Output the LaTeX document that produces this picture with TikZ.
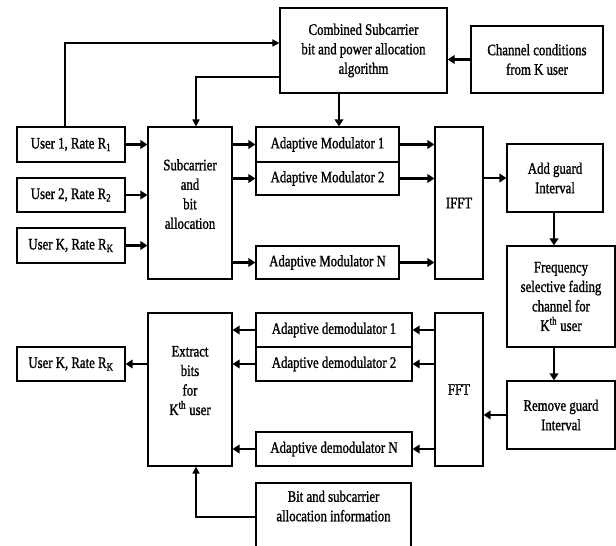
\documentclass[tikz,border=0pt]{standalone}
\usepackage{fontspec}
\setmainfont{Liberation Serif}[FakeStretch=0.8,FakeBold=1.2]
\usetikzlibrary{arrows.meta}
\tikzset{
  blk/.style={draw,line width=1.1pt,align=center,inner sep=0pt,font=\fontsize{16}{19.5}\selectfont},
  arr/.style={-{Triangle[length=7pt,width=8.5pt]},line width=2.6pt},
  fb/.style={-{Triangle[length=7pt,width=7pt]},line width=1.6pt}
}
\begin{document}
\begin{tikzpicture}[x=1pt,y=-1pt]
\useasboundingbox (0,0) rectangle (616,546);
\clip (0,0) rectangle (616,546);
% transmitter side
\node[blk,minimum width=167pt,minimum height=85pt] (comb) at (363.5,50.5) {Combined Subcarrier\\bit and power allocation\\algorithm};
\node[blk,minimum width=132pt,minimum height=67pt] (chan) at (537,59.5) {Channel conditions\\from K user};
\node[blk,minimum width=108pt,minimum height=35pt] (u1) at (71,144.5) {User 1, Rate R\textsubscript{1}};
\node[blk,minimum width=108pt,minimum height=34pt] (u2) at (71,195) {User 2, Rate R\textsubscript{2}};
\node[blk,minimum width=108pt,minimum height=35pt] (uk) at (71,245.5) {User K, Rate R\textsubscript{K}};
\node[blk,minimum width=84pt,minimum height=152pt,text depth=18pt] (sub) at (190,203) {Subcarrier\\and\\bit\\allocation};
\node[blk,minimum width=143pt,minimum height=35pt] (mod1) at (327.5,144.5) {Adaptive Modulator 1};
\node[blk,minimum width=143pt,minimum height=33pt] (mod2) at (327.5,178.5) {Adaptive Modulator 2};
\node[blk,minimum width=143pt,minimum height=33pt] (modn) at (327.5,262.5) {Adaptive Modulator N};
\node[blk,minimum width=48pt,minimum height=152pt] (ifft) at (459,203) {IFFT};
\node[blk,minimum width=96pt,minimum height=68pt] (agi) at (555,178) {Add guard\\Interval};
\node[blk,minimum width=108pt,minimum height=101pt] (fsf) at (561,296.5) {Frequency\\selective fading\\channel for\\K\textsuperscript{th} user};
% receiver side
\node[blk,minimum width=108pt,minimum height=68pt] (rgi) at (561,415) {Remove guard\\Interval};
\node[blk,minimum width=48pt,minimum height=153pt] (fft) at (459,389.5) {FFT};
\node[blk,minimum width=156pt,minimum height=34pt] (dem1) at (334,330) {Adaptive demodulator 1};
\node[blk,minimum width=156pt,minimum height=34pt] (dem2) at (334,364) {Adaptive demodulator 2};
\node[blk,minimum width=156pt,minimum height=34pt] (demn) at (334,449) {Adaptive demodulator N};
\node[blk,minimum width=84pt,minimum height=153pt,text depth=18pt] (ext) at (190,389.5) {Extract\\bits\\for\\K\textsuperscript{th} user};
\node[blk,minimum width=108pt,minimum height=34pt] (uko) at (71,364) {User K, Rate R\textsubscript{K}};
\node[blk,minimum width=155pt,minimum height=92pt] (bit) at (333.5,529) {};
\node[align=center,inner sep=0pt,font=\fontsize{16}{19.5}\selectfont,anchor=north] (bitlbl) at ([yshift=-8pt]bit.north) {Bit and subcarrier\\allocation information};
% connectors
\draw[fb] ([xshift=-6pt]u1.north) |- ([yshift=7.5pt]comb.west);
\draw[fb] ([yshift=-26.5pt]comb.west) -| ([xshift=6pt]sub.north);
\draw[arr] (chan.west) -- (chan.west -| comb.east);
\draw[arr] ([xshift=-24.5pt]comb.south) -- ([xshift=-24.5pt]comb.south |- mod1.north);
\foreach \u in {u1,u2,uk}
  \draw[arr] (\u.east) -- (\u.east -| sub.west);
\foreach \m in {mod1,mod2,modn}{
  \draw[arr] (\m.west -| sub.east) -- (\m.west);
  \draw[arr] (\m.east) -- (\m.east -| ifft.west);
}
\draw[arr] (agi.west -| ifft.east) -- (agi.west);
\draw[arr] ([xshift=-1pt]agi.south) -- ([xshift=-1pt]agi.south |- fsf.north);
\draw[arr] ([xshift=-1pt]agi.south |- fsf.south) -- ([xshift=-1pt]agi.south |- rgi.north);
\draw[arr] (rgi.west) -- (rgi.west -| fft.east);
\foreach \d in {dem1,dem2,demn}{
  \draw[arr] (\d.east -| fft.west) -- (\d.east);
  \draw[arr] (\d.west) -- (\d.west -| ext.east);
}
\draw[arr] (uko.east -| ext.west) -- (uko.east);
\draw[fb] ([yshift=12pt]bit.west) -| ([xshift=6pt]ext.south);
\end{tikzpicture}
\end{document}
